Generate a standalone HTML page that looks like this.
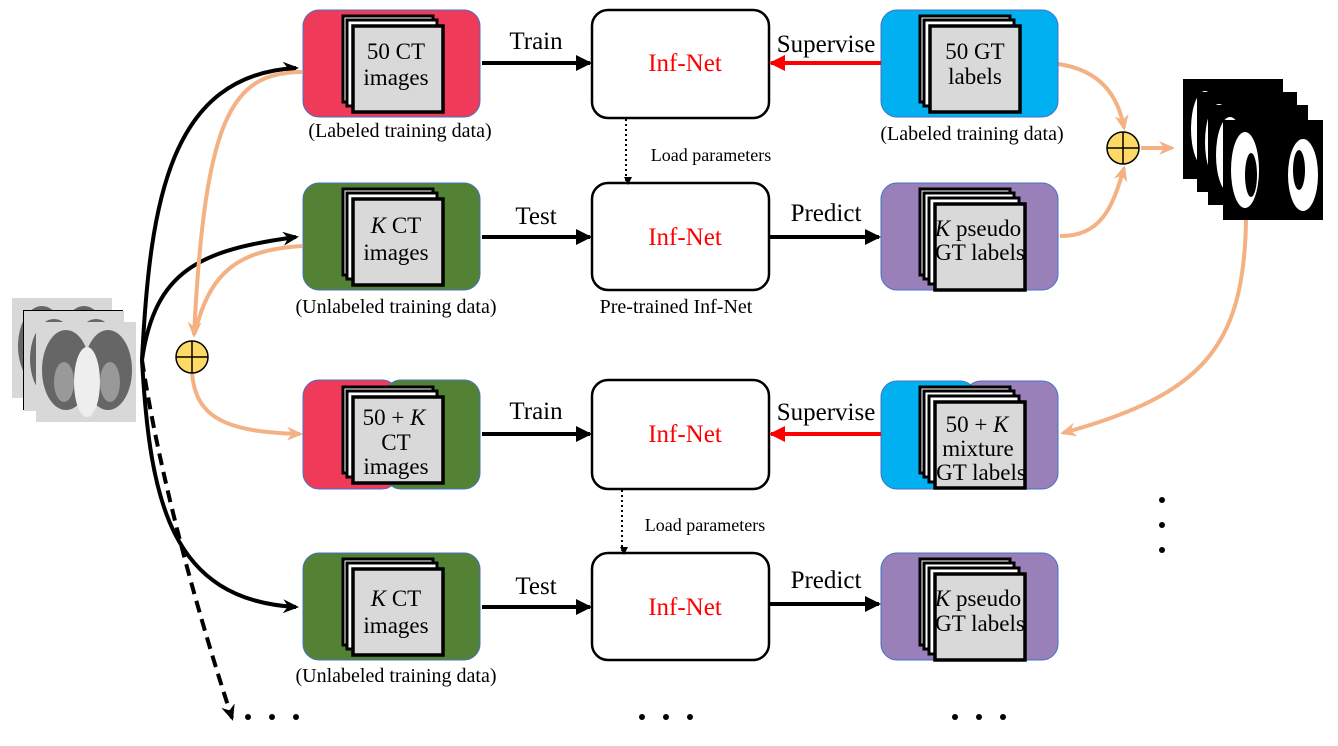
<!DOCTYPE html>
<html><head><meta charset="utf-8"><style>
body{margin:0;background:#fff}
svg text{font-family:"Liberation Serif",serif}
</style></head><body>
<svg width="1338" height="741" viewBox="0 0 1338 741" xmlns="http://www.w3.org/2000/svg">
<defs>
<marker id="ab2" markerWidth="16" markerHeight="16" refX="14" refY="8" orient="auto" markerUnits="userSpaceOnUse"><path d="M0,0 L16,8 L0,16 z" fill="#000"/></marker>
<marker id="ar" markerWidth="16" markerHeight="16" refX="14" refY="8" orient="auto" markerUnits="userSpaceOnUse"><path d="M0,0 L16,8 L0,16 z" fill="#f00"/></marker>
<marker id="ao" markerWidth="16" markerHeight="16" refX="13" refY="8" orient="auto" markerUnits="userSpaceOnUse"><path d="M0,1 L16,8 L0,15 L5,8 z" fill="#f4b183"/></marker>
<marker id="abc" markerWidth="16" markerHeight="16" refX="13" refY="8" orient="auto" markerUnits="userSpaceOnUse"><path d="M0,1 L16,8 L0,15 L5,8 z" fill="#000"/></marker>
<marker id="ad" markerWidth="8" markerHeight="8" refX="4" refY="6" orient="auto" markerUnits="userSpaceOnUse"><path d="M0,0 L8,4 L0,8 z" fill="#000"/></marker>
<g id="stk">
<rect x="0" y="0" width="90" height="86" fill="#fff" stroke="#000" stroke-width="3"/>
<rect x="4" y="4" width="90" height="86" fill="#fff" stroke="#000" stroke-width="3"/>
<rect x="10" y="10" width="90" height="86" fill="#d9d9d9" stroke="#000" stroke-width="3.5"/>
</g>
<g id="stk4">
<rect x="0" y="0" width="90" height="86" fill="#fff" stroke="#000" stroke-width="3"/>
<rect x="4" y="4" width="90" height="86" fill="#fff" stroke="#000" stroke-width="3"/>
<rect x="9" y="9" width="90" height="86" fill="#fff" stroke="#000" stroke-width="3"/>
<rect x="15" y="15" width="90" height="86" fill="#d9d9d9" stroke="#000" stroke-width="3.5"/>
</g>
<g id="ct">
<rect width="100" height="100" fill="#d8d8d8"/>
<ellipse cx="30" cy="48" rx="24" ry="40" fill="#666"/>
<ellipse cx="72" cy="48" rx="24" ry="40" fill="#666"/>
<ellipse cx="51" cy="60" rx="13" ry="35" fill="#eee"/>
<ellipse cx="28" cy="60" rx="10" ry="20" fill="#999"/>
<ellipse cx="74" cy="60" rx="10" ry="20" fill="#999"/>
</g>
<g id="mask">
<rect width="100" height="100" fill="#000"/>
<ellipse cx="22" cy="50" rx="14" ry="38" fill="#fff"/>
<ellipse cx="28" cy="55" rx="6" ry="22" fill="#000"/>
<ellipse cx="80" cy="55" rx="15" ry="36" fill="#fff"/>
<ellipse cx="76" cy="50" rx="6" ry="20" fill="#000"/>
</g>
</defs>

<use href="#ct" x="12" y="298"/>
<rect x="23" y="310" width="100" height="100" fill="#000"/>
<use href="#ct" x="24" y="311"/>
<use href="#ct" x="36" y="322"/>

<use href="#mask" x="1183" y="79"/>
<use href="#mask" x="1197" y="92"/>
<use href="#mask" x="1208" y="105"/>
<use href="#mask" x="1223" y="120"/>

<g fill="none" stroke="#000" stroke-width="4">
<path d="M142,360 C150,200 170,75 296,68" marker-end="url(#abc)"/>
<path d="M142,360 C155,270 200,250 296,237" marker-end="url(#abc)"/>
<path d="M142,360 C150,500 170,600 296,607" marker-end="url(#abc)"/>
<path d="M142,360 C160,480 200,620 232,718" stroke-dasharray="12,7" marker-end="url(#abc)"/>
</g>
<g fill="none" stroke="#f4b183" stroke-width="4">
<path d="M302,72 C230,72 205,120 194,335" marker-end="url(#ao)"/>
<path d="M302,246 C240,250 210,270 195,333"/>
<path d="M192,372 C195,420 230,432 300,434" marker-end="url(#ao)"/>
<path d="M1058,64 C1100,70 1118,95 1124,128" marker-end="url(#ao)"/>
<path d="M1060,236 C1100,236 1112,210 1124,168" marker-end="url(#ao)"/>
<path d="M1141,148 L1172,148" marker-end="url(#ao)"/>
<path d="M1246,220 C1244,350 1200,395 1063,433" marker-end="url(#ao)"/>
</g>
<g stroke="#000" stroke-width="1.5">
<circle cx="192" cy="357" r="16" fill="#ffd966"/><path d="M176,357 H208 M192,341 V373"/>
<circle cx="1123" cy="148" r="16" fill="#ffd966"/><path d="M1107,148 H1139 M1123,132 V164"/>
</g>

<rect x="303" y="10" width="177" height="107" rx="16" fill="#f03a5a" stroke="#4472c4" stroke-width="1"/>
<rect x="303" y="183" width="177" height="107" rx="16" fill="#548235" stroke="#4472c4" stroke-width="1"/>
<rect x="303" y="380" width="95" height="109" rx="16" fill="#f03a5a" stroke="#4472c4" stroke-width="1"/>
<rect x="385" y="380" width="95" height="109" rx="16" fill="#548235" stroke="#4472c4" stroke-width="1"/>
<rect x="303" y="553" width="177" height="107" rx="16" fill="#548235" stroke="#4472c4" stroke-width="1"/>
<use href="#stk" x="343" y="16"/>
<use href="#stk" x="343" y="189"/>
<use href="#stk" x="343" y="387"/>
<use href="#stk" x="343" y="559"/>
<g font-size="23" text-anchor="middle">
<text x="396" y="59">50 CT</text><text x="396" y="85">images</text>
<text x="396" y="233"><tspan font-style="italic">K</tspan> CT</text><text x="396" y="260">images</text>
<text x="394" y="425">50 + <tspan font-style="italic">K</tspan></text><text x="396" y="450">CT</text><text x="396" y="474">images</text>
<text x="396" y="606"><tspan font-style="italic">K</tspan> CT</text><text x="396" y="633">images</text>
</g>

<g fill="#fff" stroke="#000" stroke-width="2.5">
<rect x="592" y="10" width="177" height="108" rx="16"/>
<rect x="592" y="183" width="177" height="107" rx="16"/>
<rect x="592" y="380" width="177" height="109" rx="16"/>
<rect x="592" y="553" width="177" height="107" rx="16"/>
</g>
<g font-size="25" fill="#f00" text-anchor="middle">
<text x="685" y="71">Inf-Net</text><text x="685" y="245">Inf-Net</text>
<text x="685" y="442">Inf-Net</text><text x="685" y="615">Inf-Net</text>
</g>

<rect x="881" y="10" width="177" height="107" rx="16" fill="#00b0f0" stroke="#4472c4" stroke-width="1"/>
<rect x="881" y="183" width="177" height="107" rx="16" fill="#9980b8" stroke="#4472c4" stroke-width="1"/>
<rect x="965" y="381" width="93" height="108" rx="16" fill="#9980b8" stroke="#4472c4" stroke-width="1"/>
<rect x="881" y="381" width="95" height="108" rx="16" fill="#00b0f0" stroke="#4472c4" stroke-width="1"/>
<rect x="881" y="553" width="177" height="107" rx="16" fill="#9980b8" stroke="#4472c4" stroke-width="1"/>
<use href="#stk" x="920" y="16"/>
<use href="#stk4" x="920" y="189"/>
<use href="#stk4" x="920" y="387"/>
<use href="#stk4" x="920" y="559"/>
<g font-size="23" text-anchor="middle">
<text x="975" y="59">50 GT</text><text x="975" y="84">labels</text>
<text x="978" y="236"><tspan font-style="italic">K</tspan> pseudo</text><text x="980" y="260">GT labels</text>
<text x="977" y="432">50 + <tspan font-style="italic">K</tspan></text><text x="978" y="456">mixture</text><text x="981" y="480">GT labels</text>
<text x="978" y="606"><tspan font-style="italic">K</tspan> pseudo</text><text x="980" y="631">GT labels</text>
</g>

<g stroke-width="4" fill="none">
<path d="M482,63 L590,63" stroke="#000" marker-end="url(#ab2)"/>
<path d="M482,237 L590,237" stroke="#000" marker-end="url(#ab2)"/>
<path d="M482,434 L590,434" stroke="#000" marker-end="url(#ab2)"/>
<path d="M482,607 L590,607" stroke="#000" marker-end="url(#ab2)"/>
<path d="M881,63 L771,63" stroke="#f00" marker-end="url(#ar)"/>
<path d="M881,434 L771,434" stroke="#f00" marker-end="url(#ar)"/>
<path d="M769,237 L879,237" stroke="#000" marker-end="url(#ab2)"/>
<path d="M769,604 L879,604" stroke="#000" marker-end="url(#ab2)"/>
</g>
<g stroke="#000" stroke-width="2" stroke-dasharray="2,3" fill="none">
<path d="M626,119 L626,181" marker-end="url(#ad)"/>
<path d="M622,490 L622,551" marker-end="url(#ad)"/>
</g>
<g font-size="25" text-anchor="middle">
<text x="536" y="49">Train</text><text x="826" y="52">Supervise</text>
<text x="536" y="224">Test</text><text x="826" y="221">Predict</text>
<text x="536" y="419">Train</text><text x="826" y="420">Supervise</text>
<text x="536" y="594">Test</text><text x="826" y="588">Predict</text>
</g>
<g font-size="20" text-anchor="middle">
<text x="400" y="137">(Labeled training data)</text>
<text x="396" y="313">(Unlabeled training data)</text>
<text x="676" y="313">Pre-trained Inf-Net</text>
<text x="972" y="140">(Labeled training data)</text>
<text x="396" y="682">(Unlabeled training data)</text>
</g>
<g font-size="18" text-anchor="middle">
<text x="711" y="161">Load parameters</text>
<text x="705" y="531">Load parameters</text>
</g>
<g fill="#000">
<circle cx="248" cy="717" r="3"/><circle cx="272" cy="717" r="3"/><circle cx="296" cy="717" r="3"/>
<circle cx="642" cy="717" r="3"/><circle cx="666" cy="717" r="3"/><circle cx="690" cy="717" r="3"/>
<circle cx="955" cy="717" r="3"/><circle cx="979" cy="717" r="3"/><circle cx="1003" cy="717" r="3"/>
<circle cx="1162" cy="500" r="3"/><circle cx="1162" cy="525" r="3"/><circle cx="1162" cy="550" r="3"/>
</g>
</svg>
</body></html>
